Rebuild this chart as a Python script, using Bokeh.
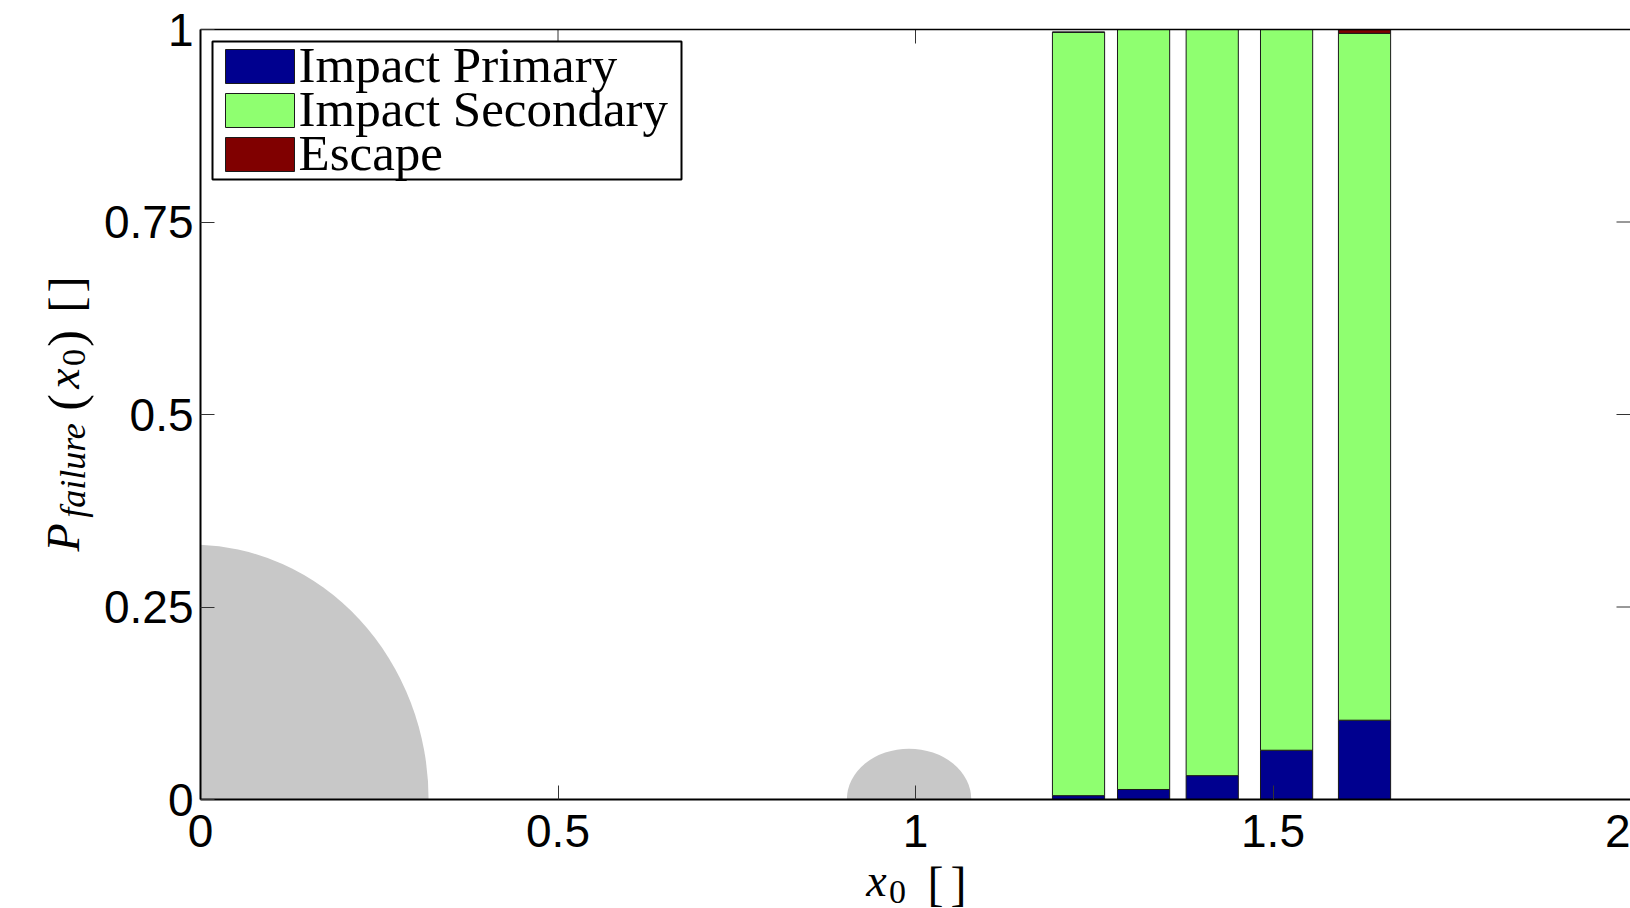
import math

from bokeh.embed import file_html
from bokeh.layouts import column, row
from bokeh.models import (BoxAnnotation, ColumnDataSource, CustomJSTickFormatter,
                          FixedTicker, Label, LinearAxis, Range1d)
from bokeh.plotting import figure
from bokeh.resources import INLINE

# ---------------------------------------------------------------- data
x0 = [1.228, 1.319, 1.415, 1.519, 1.628]
impact_primary = [0.005, 0.013, 0.031, 0.064, 0.103]
impact_secondary = [0.9915, 0.987, 0.969, 0.936, 0.892]
escape = [0.0, 0.0, 0.0, 0.0, 0.0047]
bar_width = 0.073

series_keys = ["primary", "secondary", "escape"]
series_names = ["Impact Primary", "Impact Secondary", "Escape"]
series_colors = ["#00008F", "#8FFF70", "#800000"]

# primary and secondary bodies drawn as shaded discs (centre, width, height)
body_x = [-0.012, 0.991]
body_w = [0.662, 0.174]
body_h = [0.662, 0.132]

x_ticks = [0, 0.5, 1, 1.5, 2]
y_ticks = [0, 0.25, 0.5, 0.75, 1]

# ---------------------------------------------------------------- page layout (px)
W, H = 1630, 908
SIDE_W = 100                    # strip left of the main figure (y title)
MAIN_H = 864                    # main figure height; x title strip below
FRAME_L, FRAME_R = 200, 1630    # plot frame, page coordinates
FRAME_T, FRAME_B = 29, 799
X0, X1 = 0.0, 2.0
Y0, Y1 = 0.0, 1.0


def sx(px):
    """page pixel column -> x data value"""
    return X0 + (px - FRAME_L) * (X1 - X0) / (FRAME_R - FRAME_L)


def sy(py):
    """page pixel row -> y data value"""
    return Y0 + (FRAME_B - py) * (Y1 - Y0) / (FRAME_B - FRAME_T)


SERIF = "Liberation Serif"
SANS = "Liberation Sans"

# ---------------------------------------------------------------- main plot
p = figure(width=W - SIDE_W, height=MAIN_H, output_backend="svg",
           toolbar_location=None,
           x_range=Range1d(X0, X1), y_range=Range1d(Y0, Y1),
           min_border_left=FRAME_L - SIDE_W, min_border_right=W - FRAME_R,
           min_border_top=FRAME_T, min_border_bottom=MAIN_H - FRAME_B)
p.outline_line_color = None
p.grid.visible = False
p.background_fill_color = "white"
p.border_fill_color = "white"

fmt = CustomJSTickFormatter(code="return tick.toString();")
TICK_COLOR = "#333333"
TICK_LEN = 14

xa = p.xaxis[0]
xa.ticker = FixedTicker(ticks=x_ticks)
ya = p.yaxis[0]
ya.ticker = FixedTicker(ticks=y_ticks)
for ax in (xa, ya):
    ax.formatter = fmt
    ax.axis_line_color = "black"
    ax.axis_line_width = 2
    ax.major_tick_in = TICK_LEN
    ax.major_tick_out = 0
    ax.major_tick_line_color = TICK_COLOR
    ax.major_tick_line_width = 1
    ax.minor_tick_line_color = None
    ax.major_label_text_font = SANS
    ax.major_label_text_font_size = "46px"
    ax.major_label_text_color = "black"
xa.major_label_standoff = 15
ya.major_label_standoff = 7

# box edge along the top
top_ax = LinearAxis(ticker=FixedTicker(ticks=[]), formatter=fmt,
                    axis_line_color="black", axis_line_width=1.5,
                    major_tick_line_color=None, minor_tick_line_color=None,
                    major_label_standoff=0)
p.add_layout(top_ax, "above")

# inward ticks repeated on the top and right edges
dx = TICK_LEN * (X1 - X0) / (FRAME_R - FRAME_L)
dy = TICK_LEN * (Y1 - Y0) / (FRAME_B - FRAME_T)
p.segment(x0=x_ticks, y0=[Y1] * len(x_ticks), x1=x_ticks,
          y1=[Y1 - dy] * len(x_ticks), line_color=TICK_COLOR, line_width=1)
p.segment(x0=[X1 - dx] * len(y_ticks), y0=y_ticks, x1=[X1] * len(y_ticks),
          y1=y_ticks, line_color=TICK_COLOR, line_width=1)

# ---------------------------------------------------------------- glyphs
p.ellipse(x=body_x, y=[0, 0], width=body_w, height=body_h,
          fill_color="#C8C8C8", line_color=None)

source = ColumnDataSource(dict(x=x0, primary=impact_primary,
                               secondary=impact_secondary, escape=escape))
p.vbar_stack(series_keys, x="x", width=bar_width, source=source,
             fill_color=series_colors, line_color="#1a1a1a", line_width=1)

# ---------------------------------------------------------------- legend box
LEG_L, LEG_R, LEG_T, LEG_B = 212, 681, 41, 179
ROW0, ROW_STEP = 66, 44          # centre of first key, row pitch
KEY_L, KEY_R, KEY_H = 225, 294, 34
p.add_layout(BoxAnnotation(left=sx(LEG_L), right=sx(LEG_R), top=sy(LEG_T),
                           bottom=sy(LEG_B), fill_color="white", fill_alpha=1.0,
                           line_color="black", line_width=2, line_alpha=1.0))
for i, (name, color) in enumerate(zip(series_names, series_colors)):
    cy = ROW0 + i * ROW_STEP
    p.add_layout(BoxAnnotation(left=sx(KEY_L), right=sx(KEY_R),
                               top=sy(cy - KEY_H / 2), bottom=sy(cy + KEY_H / 2),
                               fill_color=color, fill_alpha=1.0,
                               line_color="#1a1a1a", line_width=1, line_alpha=1.0))
    p.add_layout(Label(x=sx(KEY_R + 4), y=sy(cy - 2), text=name,
                       text_align="left", text_baseline="middle",
                       text_font=SERIF, text_font_size="51px",
                       text_color="black"))


# ---------------------------------------------------------------- axis titles
def strip(w, h, x_lo, y_lo, y_hi, border_top=0, border_bottom=0):
    """blank figure whose data units are page pixels (rows y_lo..y_hi)"""
    f = figure(width=w, height=h, output_backend="svg", toolbar_location=None,
               x_range=Range1d(x_lo, x_lo + w), y_range=Range1d(y_hi, y_lo),
               x_axis_location=None, y_axis_location=None,
               min_border_left=0, min_border_right=0,
               min_border_top=border_top, min_border_bottom=border_bottom)
    f.outline_line_color = None
    f.grid.visible = False
    f.background_fill_color = "white"
    f.border_fill_color = "white"
    return f


def piece(f, text, cx, cy, size, italic=False, angle=0.0):
    """one run of title text centred on (cx, cy)"""
    f.add_layout(Label(x=cx, y=cy, text=text, angle=angle,
                       text_align="center", text_baseline="middle",
                       text_font=SERIF, text_font_size=f"{size}px",
                       text_font_style="italic" if italic else "normal",
                       text_color="black"))


# y title (reads upward): P_failure (x_0) [ ]
# this strip shares the main plot's frame rows, so its frame spans FRAME_T..FRAME_B
ytitle = strip(SIDE_W, MAIN_H, 0, FRAME_T, FRAME_B,
               border_top=FRAME_T, border_bottom=MAIN_H - FRAME_B)
up = math.pi / 2
piece(ytitle, "P", 63, 537, 46, italic=True, angle=up)
piece(ytitle, "failure", 72, 470, 36, italic=True, angle=up)
piece(ytitle, "(", 65, 402, 50, angle=up)
piece(ytitle, "x", 63, 378, 46, italic=True, angle=up)
piece(ytitle, "0", 73, 357, 34, angle=up)
piece(ytitle, ")", 65, 338, 50, angle=up)
piece(ytitle, "[", 65, 304, 48, angle=up)
piece(ytitle, "]", 65, 284, 48, angle=up)

# x title: x_0 [ ]
xtitle = strip(W, H - MAIN_H, 0, MAIN_H, H)
piece(xtitle, "x", 876, 880, 46, italic=True)
piece(xtitle, "0", 897, 891, 34)
piece(xtitle, "[", 935, 883, 48)
piece(xtitle, "]", 958, 883, 48)

page = column(row(ytitle, p, spacing=0), xtitle, spacing=0)
open("out.html", "w").write(file_html(page, INLINE))
